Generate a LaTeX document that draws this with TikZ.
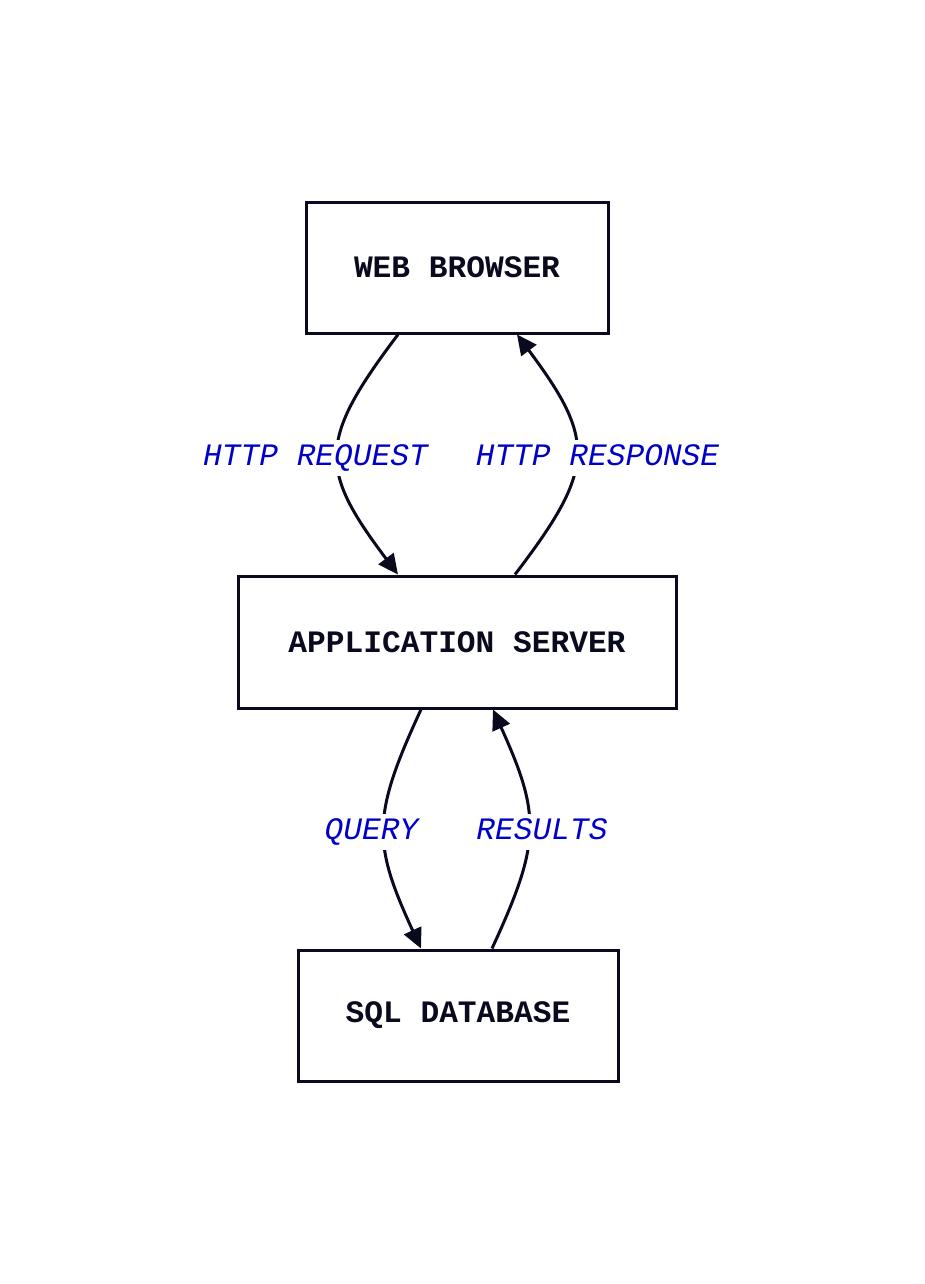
\documentclass[tikz,border=0pt]{standalone}
\usepackage{fontspec}
\setmonofont{Liberation Mono}
\usetikzlibrary{arrows.meta}
\definecolor{ink}{HTML}{0A0A1E}
\definecolor{lbl}{HTML}{0000C8}
\begin{document}
\begin{tikzpicture}[x=0.75pt,y=-0.75pt,
  box/.style={draw=ink, line width=2.25pt, fill=white, inner sep=0pt,
    font=\fontsize{23.4pt}{28pt}\selectfont\ttfamily\bfseries, text=ink},
  lab/.style={fill=white, inner xsep=2pt, inner ysep=5pt, text height=13.5pt, text depth=3pt,
    anchor=base, font=\fontsize{23.4pt}{28pt}\selectfont\ttfamily\itshape, text=lbl},
  conn/.style={draw=ink, line width=2.25pt, -{Triangle[length=15pt,width=14pt]}}]
\useasboundingbox (0,0) rectangle (924,1284);
\node[box, minimum width=226.5pt, minimum height=98.25pt] (wb) at (457,267.5) {WEB BROWSER};
\node[box, minimum width=328.5pt, minimum height=99pt] (app) at (457,642) {APPLICATION SERVER};
\node[box, minimum width=240pt, minimum height=98.25pt] (sql) at (458,1015.5) {SQL DATABASE};
% connectors
\draw[conn] ([xshift=-44.25pt]wb.south) .. controls +(-80,106) and +(-80,-106) .. ([xshift=-44.25pt]app.north);
\draw[conn] ([xshift=43.5pt]app.north) .. controls +(81,-106) and +(79,106) .. ([xshift=45pt]wb.south);
\draw[conn] ([xshift=-27pt]app.south) .. controls +(-49,106) and +(-49,-106) .. ([xshift=-27.75pt]sql.north);
\draw[conn] ([xshift=25.5pt]sql.north) .. controls +(49,-106) and +(48,106) .. ([xshift=27pt]app.south);
% labels
\node[lab] (lreq) at (315.5,465) {HTTP REQUEST};
\node[lab] (lresp) at (597.5,465) {HTTP RESPONSE};
\node[lab] (lq) at (371.5,839) {QUERY};
\node[lab] (lres) at (542,839) {RESULTS};
\end{tikzpicture}
\end{document}
